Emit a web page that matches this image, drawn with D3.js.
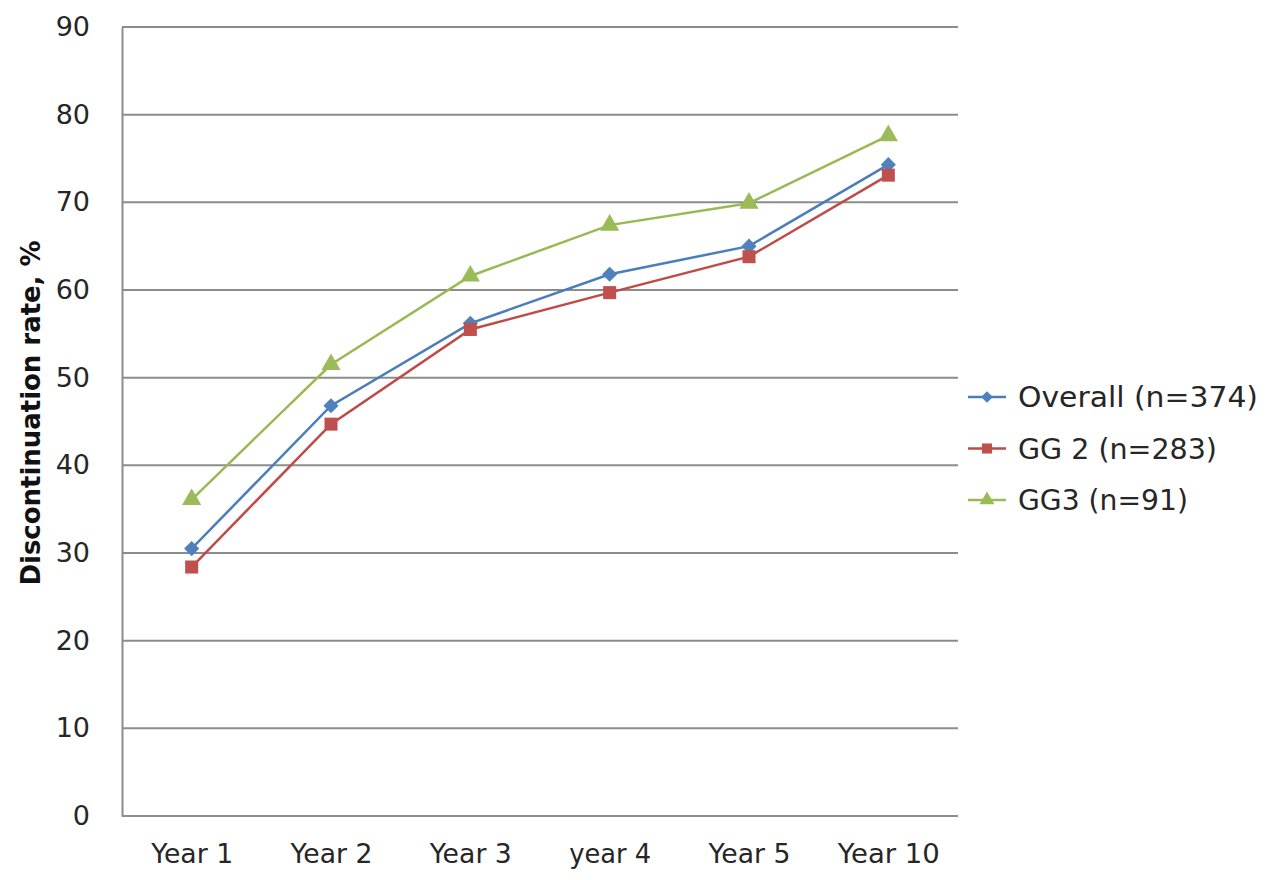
<!DOCTYPE html>
<html>
<head>
<meta charset="utf-8">
<script src="https://cdn.jsdelivr.net/npm/d3@7"></script>
<style>
body { margin: 0; background: #fff; }
svg { display: block; }
</style>
</head>
<body>
<svg id="chart" width="1279" height="880"></svg>
<script>
const categories = ["Year 1", "Year 2", "Year 3", "year 4", "Year 5", "Year 10"];
const overall = [30.5, 46.8, 56.2, 61.8, 65.0, 74.3];
const gg2 = [28.4, 44.7, 55.5, 59.7, 63.8, 73.1];
const gg3 = [36.1, 51.5, 61.6, 67.4, 69.9, 77.6];
const seriesNames = ["Overall (n=374)", "GG 2 (n=283)", "GG3 (n=91)"];
const yTicks = [0, 10, 20, 30, 40, 50, 60, 70, 80, 90];
const yTitle = "Discontinuation rate, %";

const series = [
  { name: seriesNames[0], values: overall, color: "#4a7ebb", mcolor: "#4f81bd", symbol: d3.symbolSquare, size: 115, rot: 45, legendLen: 240 },
  { name: seriesNames[1], values: gg2, color: "#be4b48", mcolor: "#c0504d", symbol: d3.symbolSquare, size: 170, rot: 0, legendLen: 199 },
  { name: seriesNames[2], values: gg3, color: "#98b954", mcolor: "#9bbb59", symbol: d3.symbolTriangle, size: 160, rot: 0, legendLen: 170 }
];

const svg = d3.select("#chart");
const mLeft = 122, mRight = 958, mTop = 27, mBottom = 816;
const font = "'DejaVu Sans', Verdana, sans-serif";
const textColor = "#262626";

const x = d3.scalePoint().domain(categories).range([mLeft, mRight]).padding(0.5);
const y = d3.scaleLinear().domain([0, 90]).range([mBottom, mTop]);

// gridlines
svg.append("g").selectAll("line").data(yTicks.filter(d => d > 0)).join("line")
  .attr("x1", mLeft).attr("x2", mRight)
  .attr("y1", d => y(d)).attr("y2", d => y(d))
  .attr("stroke", "#8c8c8c").attr("stroke-width", 2);

// y axis
const yAxis = svg.append("g").attr("transform", `translate(${mLeft},0)`)
  .call(d3.axisLeft(y).tickValues(yTicks).tickSize(0).tickPadding(32));
yAxis.select(".domain").attr("stroke", "#8c8c8c").attr("stroke-width", 2);
yAxis.selectAll("text").attr("font-family", font).attr("font-size", 27).attr("fill", textColor);

// x axis
const xAxis = svg.append("g").attr("transform", `translate(0,${mBottom})`)
  .call(d3.axisBottom(x).tickSize(0).tickPadding(28));
xAxis.select(".domain").attr("stroke", "#8c8c8c").attr("stroke-width", 2)
  .attr("d", `M${mLeft},0H${mRight}`);
xAxis.selectAll("text").attr("font-family", font).attr("font-size", 27).attr("fill", textColor)
  .attr("textLength", d => d.length > 6 ? 102 : 82).attr("lengthAdjust", "spacingAndGlyphs");

// y title
svg.append("text")
  .attr("transform", `translate(40,413) rotate(-90)`)
  .attr("text-anchor", "middle")
  .attr("font-family", font).attr("font-weight", "bold").attr("font-size", 26).attr("fill", "#111")
  .attr("textLength", 345).attr("lengthAdjust", "spacingAndGlyphs")
  .text(yTitle);

// lines and markers
const line = d3.line().x((d, i) => x(categories[i])).y(d => y(d));
series.forEach(s => {
  svg.append("path").datum(s.values)
    .attr("d", line).attr("fill", "none")
    .attr("stroke", s.color).attr("stroke-width", 2.5);
});
series.forEach(s => {
  svg.append("g").selectAll("path").data(s.values).join("path")
    .attr("transform", (d, i) => `translate(${x(categories[i])},${y(d)}) rotate(${s.rot})`)
    .attr("d", d3.symbol().type(s.symbol).size(s.size))
    .attr("fill", s.mcolor);
});

// legend
const lg = svg.append("g");
series.forEach((s, i) => {
  const ly = 397 + i * 51.5;
  lg.append("line").attr("x1", 968).attr("x2", 1006).attr("y1", ly).attr("y2", ly)
    .attr("stroke", s.color).attr("stroke-width", 2.5);
  lg.append("path").attr("transform", `translate(987,${ly}) rotate(${s.rot})`)
    .attr("d", d3.symbol().type(s.symbol).size(s.size * 0.6)).attr("fill", s.mcolor);
  lg.append("text").attr("x", 1018).attr("y", ly).attr("dy", "0.36em")
    .attr("font-family", font).attr("font-size", 28).attr("fill", textColor)
    .attr("textLength", s.legendLen).attr("lengthAdjust", "spacingAndGlyphs")
    .text(s.name);
});
</script>
</body>
</html>
